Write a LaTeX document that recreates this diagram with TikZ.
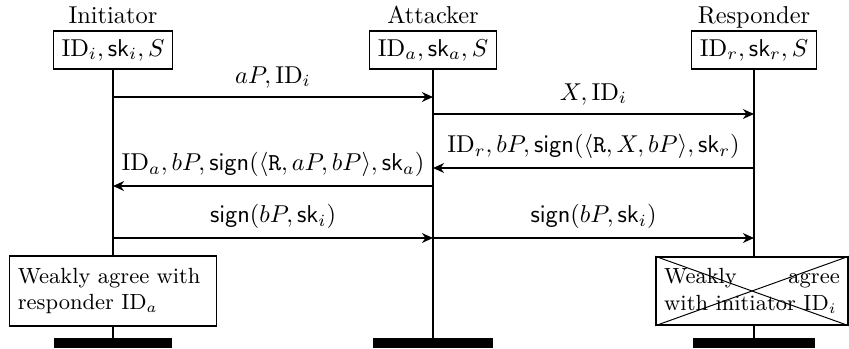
\documentclass[tikz,border=0pt]{standalone}
\usetikzlibrary{arrows.meta}
\begin{document}
\begin{tikzpicture}[x=0.41pt,y=-0.41pt,
  hbox/.style={draw, line width=0.6pt, fill=white},
  life/.style={line width=1pt},
  msg/.style={line width=0.8pt, -{Stealth[length=4.5pt,width=4pt,inset=1.4pt]}},
  lbl/.style={above},
  sbox/.style={draw, line width=0.6pt, fill=white, font=\small, inner ysep=4.8pt},
  cross/.style={line width=0.4pt}]
\useasboundingbox (0,0) rectangle (849,348);
% headers
\node[anchor=base] (tI) at (113,23) {Initiator};
\node[anchor=base] (tA) at (433,23) {Attacker};
\node[anchor=base] (tR) at (754,23) {Responder};
\node[hbox] (bI) at (113,50) {$\mathrm{ID}_i, \mathsf{sk}_i, S$};
\node[hbox] (bA) at (433,50) {$\mathrm{ID}_a, \mathsf{sk}_a, S$};
\node[hbox] (bR) at (754,50) {$\mathrm{ID}_r, \mathsf{sk}_r, S$};
% lifeline ends and bars
\coordinate (eI) at (113,338);
\coordinate (eA) at (433,338);
\coordinate (eR) at (754,338);
\draw[life] (bI) -- (eI);
\draw[life] (bA) -- (eA);
\draw[life] (bR) -- (eR);
\fill (54,338) rectangle (172,348);
\fill (373,338) rectangle (493,348);
\fill (693,338) rectangle (815,348);
% message points
\coordinate (i1) at (113,97);
\coordinate (a1) at (433,97);
\coordinate (a2) at (433,114);
\coordinate (r2) at (754,114);
\coordinate (r3) at (754,168);
\coordinate (a3) at (433,168);
\coordinate (a4) at (433,186);
\coordinate (i4) at (113,186);
\coordinate (i5) at (113,238);
\coordinate (a5) at (433,238);
\coordinate (r6) at (754,238);
\draw[msg] (i1) -- node[lbl] {$aP, \mathrm{ID}_i$} (a1);
\draw[msg] (a2) -- node[lbl] {$X, \mathrm{ID}_i$} (r2);
\draw[msg] (r3) -- node[lbl] {$\mathrm{ID}_r, bP, \mathsf{sign}(\langle \mathtt{R}, X, bP\rangle, \mathsf{sk}_r)$} (a3);
\draw[msg] (a4) -- node[lbl] {$\mathrm{ID}_a, bP, \mathsf{sign}(\langle \mathtt{R}, aP, bP\rangle, \mathsf{sk}_a)$} (i4);
\draw[msg] (i5) -- node[lbl] {$\mathsf{sign}(bP, \mathsf{sk}_i)$} (a5);
\draw[msg] (a5) -- node[lbl] {$\mathsf{sign}(bP, \mathsf{sk}_i)$} (r6);
% bottom boxes
\node[sbox, text width=78pt, align=left] (wI) at (113,291) {Weakly agree with\\responder $\mathrm{ID}_a$};
\node[sbox, text width=72pt, align=justify] (wR) at (752,291) {Weakly agree with initiator $\mathrm{ID}_i$};
\draw[cross] (wR.north west) -- (wR.south east);
\draw[cross] (wR.south west) -- (wR.north east);
\end{tikzpicture}
\end{document}
